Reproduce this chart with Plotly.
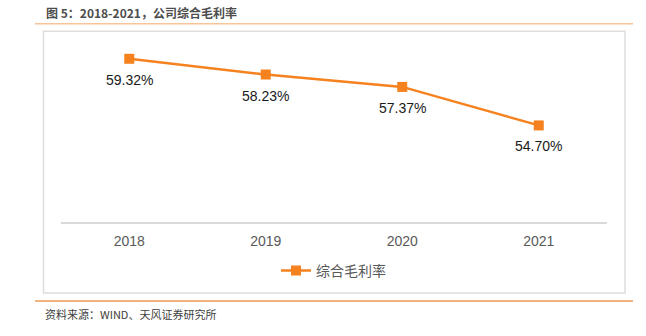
import plotly.graph_objects as go

years = ["2018", "2019", "2020", "2021"]
margin_vals = [59.32, 58.23, 57.37, 54.70]
value_labels = ["59.32%", "58.23%", "57.37%", "54.70%"]
series_name = "综合毛利率"
title_text = "图 5：2018-2021，公司综合毛利率"
source_text = "资料来源：WIND、天风证券研究所"

W, H = 646, 336
L, R, T, B = 61, 39, 48.5, 114
PW, PH = W - L - R, H - T - B

def px(xp):
    return (xp - L) / PW

def py(yp):
    return (H - B - yp) / PH

ORANGE = "#F5821F"
CJK = "Noto Sans CJK SC"
LAT = "Liberation Sans, Arial, Noto Sans CJK SC"

fig = go.Figure()
fig.add_trace(go.Scatter(
    x=years, y=margin_vals, mode="lines+markers", name=series_name,
    line=dict(color=ORANGE, width=2.5),
    marker=dict(symbol="square", size=10, color=ORANGE),
))

for i, (y, t) in enumerate(zip(margin_vals, value_labels)):
    fig.add_annotation(x=i, y=y, text=t, showarrow=False, yshift=-21,
                       xanchor="center", yanchor="middle",
                       font=dict(family=LAT, size=14, color="#1a1a1a"))

# title
fig.add_annotation(xref="paper", yref="paper", x=px(44), y=py(12.3), text="<b>" + title_text + "</b>",
                   showarrow=False, xanchor="left", yanchor="middle",
                   font=dict(family=CJK, size=12, color="#4d4d4d"))
# source
fig.add_annotation(xref="paper", yref="paper", x=px(43), y=py(314.3), text=source_text,
                   showarrow=False, xanchor="left", yanchor="middle",
                   font=dict(family=CJK, size=11, color="#404040"))

shapes = [
    dict(type="line", xref="paper", yref="paper", x0=px(35), x1=px(633), y0=py(23.3), y1=py(23.3),
         line=dict(color="#F8C49A", width=1.5)),
    dict(type="line", xref="paper", yref="paper", x0=px(35), x1=px(633), y0=py(301.3), y1=py(301.3),
         line=dict(color="#EE9A55", width=1.5)),
    dict(type="rect", xref="paper", yref="paper", x0=px(43.5), x1=px(625), y0=py(30.7), y1=py(293.3),
         line=dict(color="#DDDDDD", width=1.5), layer="below"),
]

fig.update_layout(
    width=W, height=H,
    margin=dict(l=L, r=R, t=T, b=B),
    paper_bgcolor="white", plot_bgcolor="white",
    shapes=shapes,
    showlegend=True,
    legend=dict(orientation="h", x=px(276), xanchor="left", y=py(271), yanchor="middle",
                font=dict(family=CJK, size=14, color="#595959"), bgcolor="rgba(0,0,0,0)",
                itemwidth=30),
    xaxis=dict(type="category", range=[-0.5, 3.5], showgrid=False, zeroline=False,
               showline=True, linecolor="#D9D9D9", linewidth=2, ticks="",
               ticklabelstandoff=5,
               tickfont=dict(family=LAT, size=14, color="#595959")),
    yaxis=dict(range=[48, 60], showgrid=False, zeroline=False, showline=False,
               showticklabels=False, ticks=""),
)

fig.write_html("out.html")
